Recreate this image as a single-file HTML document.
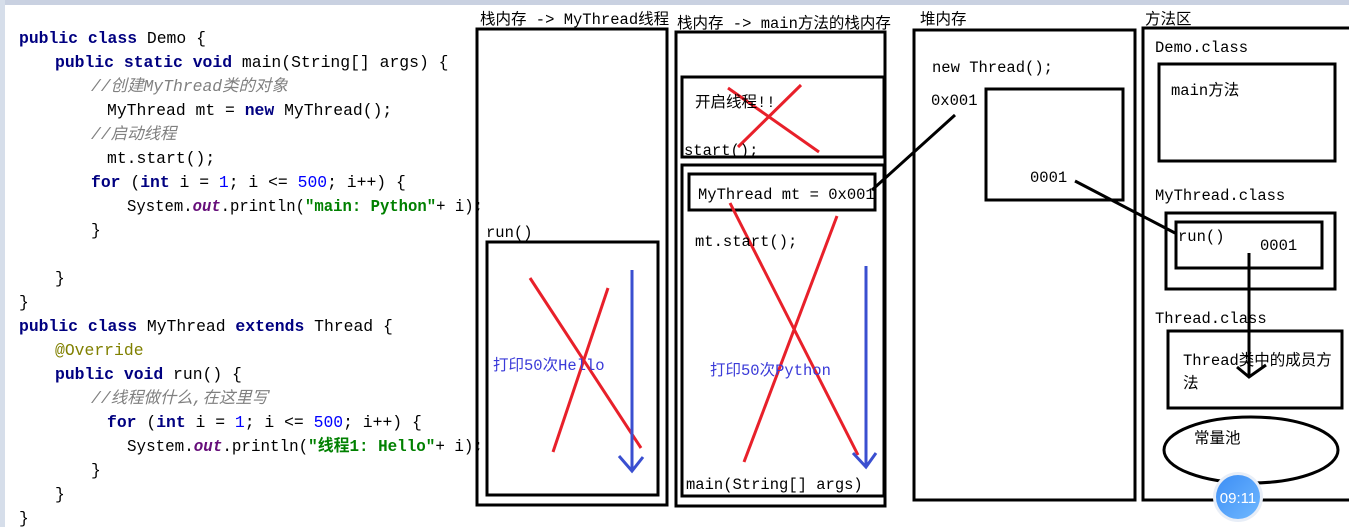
<!DOCTYPE html>
<html><head><meta charset="utf-8"><style>
html,body{margin:0;padding:0;background:#fff;width:1349px;height:527px;overflow:hidden}
svg{display:block}
.c{font-family:"Liberation Mono","Noto Sans CJK SC",monospace;font-size:16.4px;fill:#000}
.k{font-weight:bold;fill:#000080}
.cm{fill:#808080;font-style:italic}
.n{fill:#0000ff}
.s{fill:#008000;font-weight:bold}
.o{fill:#660e7a;font-weight:bold;font-style:italic}
.an{fill:#808000}
.t{font-family:"Liberation Mono","Noto Sans CJK SC",monospace;font-size:15.5px;fill:#000}
.b{fill:#3a3ad8}
</style></head><body>
<svg width="1349" height="527" xmlns="http://www.w3.org/2000/svg">
<rect x="0" y="0" width="1349" height="5" fill="#c9d1e1"/>
<rect x="0" y="0" width="5" height="527" fill="#d6deea"/>
<g class="c">
<text x="19" y="43"><tspan class="k">public class</tspan> Demo {</text>
<text x="55" y="67"><tspan class="k">public static void</tspan> main(String[] args) {</text>
<text x="91" y="91" class="cm">//创建MyThread类的对象</text>
<text x="107" y="115">MyThread mt = <tspan class="k">new</tspan> MyThread();</text>
<text x="91" y="139" class="cm">//启动线程</text>
<text x="107" y="163">mt.start();</text>
<text x="91" y="187"><tspan class="k">for</tspan> (<tspan class="k">int</tspan> i = <tspan class="n">1</tspan>; i &lt;= <tspan class="n">500</tspan>; i++) {</text>
<text x="127" y="211" textLength="356" lengthAdjust="spacingAndGlyphs">System.<tspan class="o">out</tspan>.println(<tspan class="s">"main: Python"</tspan>+ i);</text>
<text x="91" y="235">}</text>
<text x="55" y="283">}</text>
<text x="19" y="307">}</text>
<text x="19" y="331"><tspan class="k">public class</tspan> MyThread <tspan class="k">extends</tspan> Thread {</text>
<text x="55" y="355" class="an">@Override</text>
<text x="55" y="379"><tspan class="k">public void</tspan> run() {</text>
<text x="91" y="403" class="cm">//线程做什么,在这里写</text>
<text x="107" y="427"><tspan class="k">for</tspan> (<tspan class="k">int</tspan> i = <tspan class="n">1</tspan>; i &lt;= <tspan class="n">500</tspan>; i++) {</text>
<text x="127" y="451" textLength="356" lengthAdjust="spacingAndGlyphs">System.<tspan class="o">out</tspan>.println(<tspan class="s">"线程1: Hello"</tspan>+ i);</text>
<text x="91" y="475">}</text>
<text x="55" y="499">}</text>
<text x="19" y="523">}</text>
</g>
<g fill="none" stroke="#000" stroke-width="3">
<rect x="477" y="29" width="190" height="476"/>
<rect x="487" y="242" width="171" height="253"/>
<rect x="676" y="32" width="209" height="474"/>
<rect x="682" y="77" width="202" height="80"/>
<rect x="682" y="165" width="202" height="331"/>
<rect x="689" y="174" width="186" height="36"/>
<rect x="914" y="30" width="221" height="470"/>
<rect x="986" y="89" width="137" height="111"/>
<rect x="1143" y="28" width="210" height="472"/>
<rect x="1159" y="64" width="176" height="97"/>
<rect x="1166" y="213" width="169" height="76"/>
<rect x="1176" y="222" width="146" height="46"/>
<rect x="1168" y="331" width="174" height="77"/>
<ellipse cx="1251" cy="450" rx="87" ry="33"/>
<line x1="872" y1="190" x2="955" y2="115"/>
<line x1="1075" y1="181" x2="1175" y2="233"/>
<line x1="1249" y1="253" x2="1249" y2="377"/>
<polyline points="1237,367 1249,377 1266,365"/>
</g>
<g stroke="#e8202a" stroke-width="3">
<line x1="530" y1="278" x2="641" y2="448"/>
<line x1="608" y1="288" x2="553" y2="452"/>
<line x1="728" y1="88" x2="819" y2="152"/>
<line x1="801" y1="85" x2="738" y2="147"/>
<line x1="730" y1="203" x2="858" y2="455"/>
<line x1="837" y1="216" x2="744" y2="462"/>
</g>
<g stroke="#3a4fd0" stroke-width="3" fill="none">
<line x1="632" y1="270" x2="632" y2="471"/>
<polyline points="619,456 632,471 643,457"/>
<line x1="866" y1="266" x2="866" y2="467"/>
<polyline points="853,453 866,467 876,453"/>
</g>
<g class="t">
<text x="480" y="24">栈内存 -&gt; MyThread线程</text>
<text x="677" y="28">栈内存 -&gt; main方法的栈内存</text>
<text x="920" y="24">堆内存</text>
<text x="1145" y="24">方法区</text>
<text x="486" y="237">run()</text>
<text x="493" y="370" class="b">打印50次Hello</text>
<text x="695" y="107">开启线程!!</text>
<text x="684" y="155">start();</text>
<text x="698" y="199">MyThread mt = 0x001</text>
<text x="695" y="246">mt.start();</text>
<text x="710" y="375" class="b">打印50次Python</text>
<text x="686" y="489">main(String[] args)</text>
<text x="932" y="72">new Thread();</text>
<text x="931" y="105">0x001</text>
<text x="1030" y="182">0001</text>
<text x="1155" y="52">Demo.class</text>
<text x="1171" y="95">main方法</text>
<text x="1155" y="200">MyThread.class</text>
<text x="1178" y="241">run()</text>
<text x="1260" y="250">0001</text>
<text x="1155" y="323">Thread.class</text>
<text x="1183" y="365">Thread类中的成员方</text>
<text x="1183" y="388">法</text>
<text x="1194" y="443">常量池</text>
</g>
<defs><linearGradient id="g" x1="0" y1="0" x2="1" y2="1"><stop offset="0" stop-color="#3d8ef5"/><stop offset="1" stop-color="#6fb8ff"/></linearGradient></defs>
<circle cx="1238" cy="497" r="25" fill="#e8eef7"/>
<circle cx="1238" cy="497" r="22" fill="url(#g)"/>
<text x="1238" y="503" text-anchor="middle" font-family="Liberation Sans,sans-serif" font-size="15" fill="#fff">09:11</text>
</svg>
</body></html>
